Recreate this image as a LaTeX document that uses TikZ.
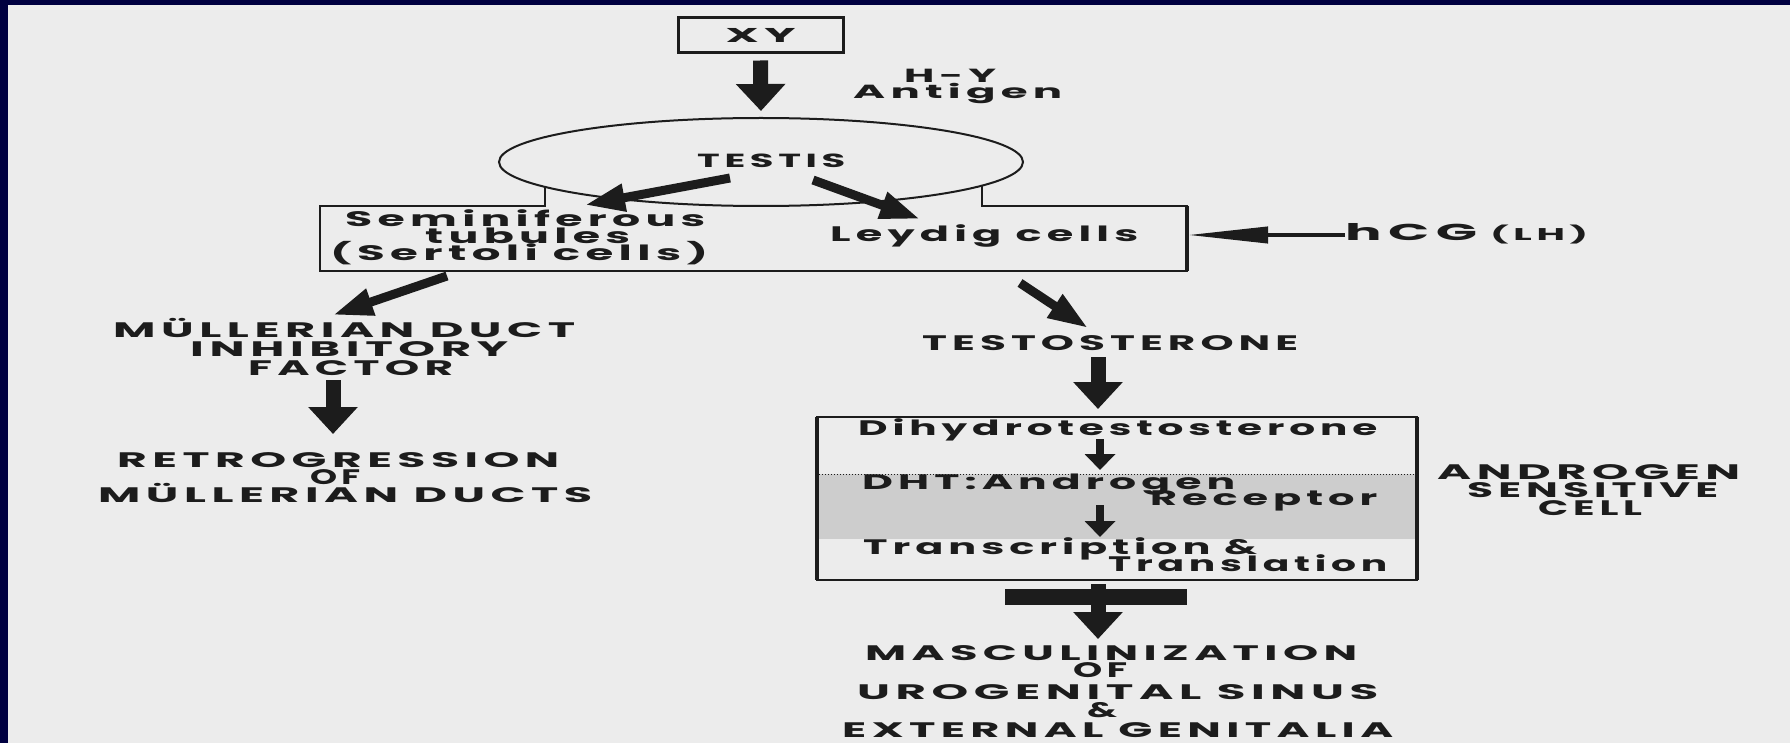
\documentclass[tikz,border=0pt]{standalone}
\usepackage{fontspec}
\usepackage{graphicx}
\usetikzlibrary{arrows.meta,shapes.geometric}
\newfontfamily\lbl{Poppins}[UprightFont={* Bold},LetterSpace=12]
\newcommand{\fw}[2]{\resizebox{#1pt}{\height}{#2}}
\newcommand{\off}[1]{\hspace*{#1pt}}
\newcommand{\tightl}{\lineskiplimit-100pt\relax}
\newcommand{\lf}[2]{\lbl\fontsize{#1}{#2}\selectfont\tightl}
\definecolor{bgc}{RGB}{236,236,236}
\definecolor{navy}{RGB}{0,0,64}
\definecolor{ink}{RGB}{28,28,28}
\definecolor{bandc}{RGB}{205,205,205}
\tikzset{
  txt/.style={inner sep=0pt, anchor=base west, align=left, text=ink, font={\lf{21}{#1}}},
  txt/.default=18,
  bigarrow/.style={draw=ink, line width=15pt, -{Triangle[width=48pt,length=27pt]}},
  slant/.style={draw=ink, line width=9pt, -{Triangle[width=26pt,length=40pt]}},
  smallarrow/.style={draw=ink, line width=8pt, -{Triangle[width=30pt,length=16pt]}},
  hcgarrow/.style={draw=ink, line width=4pt, -{Triangle[width=16pt,length=80pt]}},
  outline/.style={draw=ink, line width=2.5pt},
}
\begin{document}
\begin{tikzpicture}[x=1pt,y=-1pt]
\useasboundingbox (0,0) rectangle (1790,743);
\fill[bgc] (0,0) rectangle (1790,743);
\fill[navy] (0,0) rectangle (1790,5);
\fill[navy] (0,0) rectangle (8,743);

% XY box
\node[draw=ink, line width=3pt, minimum width=165pt, minimum height=35pt, inner sep=0pt,
      text=ink, font={\lf{20}{22}}] (xy) at (760.5,35.5) {\fw{70}{XY}};
% multi-line nodes: anchor base = baseline of the LAST line
\node[txt, font={\lf{19}{16}}] (hy) at (853,99)
  {\off{51}\fw{92}{H-Y}\\\fw{209}{Antigen}};

% testis ellipse
\node[draw=ink, line width=2pt, ellipse, minimum width=524pt, minimum height=88pt, inner sep=0pt] (testis) at (761,162) {};
\node[txt, font={\lf{19}{21}}] (testisl) at (697,168) {\fw{148}{TESTIS}};

% cell box outline (open where the ellipse sits)
\draw[outline] (545,187) -- (545,206) -- (320,206) -- (320,271) -- (1187,271) -- (1187,206) -- (982,206) -- (982,186);
\draw[draw=ink, line width=4pt] (1187,206) -- (1187,271);

\node[txt=17] (sem) at (330,261)
  {\off{15}\fw{360}{Seminiferous}\\\off{95}\fw{205}{tubules}\\\fw{378}{(Sertoli cells)}};
\node[txt] (leydig) at (830,242) {\fw{308}{Leydig cells}};

\node[txt, font={\lf{23}{25}}] (hcg) at (1345,241) {\fw{132}{hCG}};
\node[txt, font={\lf{17}{19}}] (lh) at (1490,241) {\fw{98}{(LH)}};

% left branch
\node[txt=19] (mdif) at (113,375)
  {\fw{462}{MÜLLERIAN DUCT}\\\off{77}\fw{318}{INHIBITORY}\\\off{135}\fw{205}{FACTOR}};
\node[txt=17.5] (retro) at (98,502)
  {\off{19}\fw{442}{RETROGRESSION}\\\off{212}\fw{50}{OF}\\\fw{494}{MÜLLERIAN DUCTS}};

% right branch
\node[txt] (testo) at (922,350) {\fw{376}{TESTOSTERONE}};

% androgen sensitive cell box
\fill[bandc] (819,474) rectangle (1415,539);
\draw[ink, dotted, line width=1pt] (819,474) -- (1415,474);
\node[draw=ink, line width=2.5pt, minimum width=600pt, minimum height=163pt, inner sep=0pt] (cellbox) at (1117,498.5) {};
\draw[ink, line width=4.5pt] (1417,417) -- (1417,580);
\draw[ink, line width=4pt] (817,417) -- (817,580);

\node[txt] (dht0) at (858,435) {\fw{519}{Dihydrotestosterone}};
\node[txt=16] (dht) at (862,505) {\fw{373}{DHT:Androgen}\\\off{288}\fw{227}{Receptor}};
\node[txt=17] (trans) at (863,571) {\fw{394}{Transcription \&}\\\off{245}\fw{279}{Translation}};

\node[txt=18] (asc) at (1437,515)
  {\fw{303}{ANDROGEN}\\\off{30}\fw{251}{SENSITIVE}\\\off{101}\fw{104}{CELL}};

\node[txt=17] (masc) at (842,737)
  {\off{23}\fw{492}{MASCULINIZATION}\\\off{231}\fw{54}{OF}\\[5pt]\off{15}\fw{521}{UROGENITAL SINUS}\\[1pt]\off{245}\fw{30}{\&}\\[3pt]\fw{551}{EXTERNAL GENITALIA}};

% arrow end points
\coordinate (tsL) at (730,178);  \coordinate (semT) at (585,205);
\coordinate (tsR) at (813,180);  \coordinate (leyT) at (920,219);
\coordinate (bxL) at (447,276);  \coordinate (mdT) at (333,315);
\coordinate (bxR) at (1020,283); \coordinate (teT) at (1088,328);
\coordinate (bxE) at (1188,235); \coordinate (hcgS) at (1345,235);
\coordinate (mdB) at (333,380);  \coordinate (reT) at (333,434);
\coordinate (teB) at (1098,357); \coordinate (cbT) at (1098,409);
\coordinate (d0B) at (1100,439); \coordinate (d1T) at (1100,470);
\coordinate (d2B) at (1100,505); \coordinate (d3T) at (1100,537);
\coordinate (cbB) at (1098,584); \coordinate (maT) at (1098,639);

\draw[bigarrow, shorten <=6pt, shorten >=6pt] (xy.south) -- (testis.north);
\draw[slant] (tsL) -- (semT);
\draw[slant] (tsR) -- (leyT);
\draw[slant] (bxL) -- (mdT);
\draw[slant] (bxR) -- (teT);
\draw[hcgarrow] (hcgS) -- (bxE);
\draw[bigarrow] (mdB) -- (reT);
\draw[bigarrow] (teB) -- (cbT);
\draw[smallarrow] (d0B) -- (d1T);
\draw[smallarrow] (d2B) -- (d3T);
\draw[bigarrow] (cbB) -- (maT);
\fill[ink] (1005,589) rectangle (1187,605);
\end{tikzpicture}
\end{document}
